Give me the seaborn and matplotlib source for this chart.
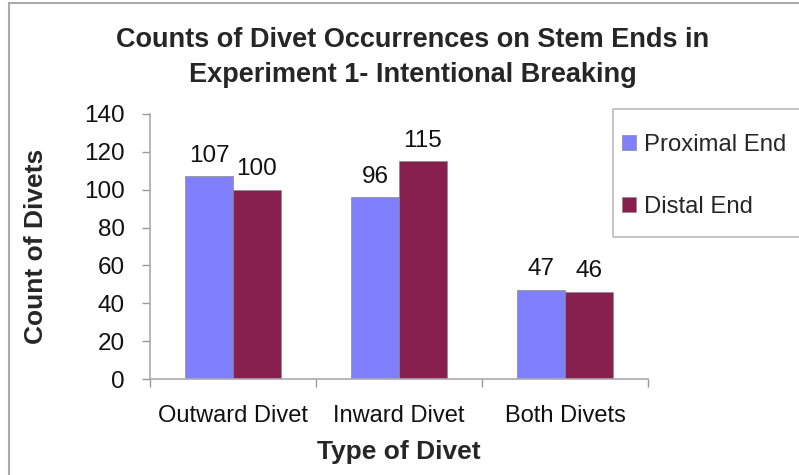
import matplotlib
matplotlib.use("Agg")
import matplotlib.pyplot as plt
from matplotlib.patches import Rectangle
import seaborn as sns
import pandas as pd

# values
divet_types = ["Outward Divet", "Inward Divet", "Both Divets"]
proximal_counts = [107, 96, 47]
distal_counts = [100, 115, 46]
series_names = ["Proximal End", "Distal End"]
bar_colors = ["#8080FF", "#87204F"]

df = pd.DataFrame({
    "Type of Divet": divet_types * 2,
    "Count": proximal_counts + distal_counts,
    "End": [series_names[0]] * 3 + [series_names[1]] * 3,
})

sns.set_theme(style="white")
plt.rcParams["font.family"] = ["Liberation Sans", "DejaVu Sans"]

fig = plt.figure(figsize=(7.99, 4.75), dpi=100)
ax = fig.add_axes([150 / 799, 1 - 379 / 475, 498 / 799, 265 / 475])

sns.barplot(data=df, x="Type of Divet", y="Count", hue="End", palette=bar_colors,
            saturation=1, width=0.576, edgecolor="#8a8a8a", linewidth=0.5,
            ax=ax, legend=False)

for cont in ax.containers:
    ax.bar_label(cont, padding=7, fontsize=17.5, color="#111111")

ax.set_ylim(0, 140)
ax.set_xlim(-0.5, 2.5)
ax.set_yticks(range(0, 141, 20))
ax.tick_params(axis="y", labelsize=17.5, length=6, width=1, color="#999999",
               pad=12, left=True, labelcolor="#111111")
# category labels in the middle, tick marks between categories (Excel style)
ax.set_xticks(range(3))
ax.set_xticklabels(divet_types)
ax.tick_params(axis="x", which="major", length=0, labelsize=17, pad=19,
               labelcolor="#111111")
ax.set_xticks([-0.5, 0.5, 1.5, 2.5], minor=True)
ax.tick_params(axis="x", which="minor", length=6, width=1, color="#999999",
               bottom=True)

for s in ["top", "right"]:
    ax.spines[s].set_visible(False)
for s in ["left", "bottom"]:
    ax.spines[s].set_color("#aaaaaa")
    ax.spines[s].set_linewidth(1.2)

ax.set_xlabel("Type of Divet", fontsize=19, fontweight="bold", labelpad=9)
ax.set_ylabel("Count of Divets", fontsize=19, fontweight="bold", labelpad=26)

fig.suptitle("Counts of Divet Occurrences on Stem Ends in\nExperiment 1- Intentional Breaking",
             fontsize=19.5, fontweight="bold", x=413 / 799, y=1 - 27 / 475,
             va="top", linespacing=1.45)

# legend with its own frame
handles = [Rectangle((0, 0), 1, 1, facecolor=c, edgecolor="#8a8a8a", linewidth=0.5)
           for c in bar_colors]
fig.legend(handles, series_names, loc="center left",
           bbox_to_anchor=(605 / 799, 1 - 176 / 475), frameon=False,
           fontsize=17.2, handlelength=0.6, handleheight=0.6, handletextpad=0.35,
           labelspacing=1.7, borderpad=0.2)
fig.patches.append(Rectangle((613 / 799, 1 - 237 / 475), 200 / 799, 128 / 475,
                             transform=fig.transFigure, fill=False,
                             edgecolor="#bbbbbb", linewidth=1.2))
# outer chart border
fig.patches.append(Rectangle((9 / 799, -0.05), 1.0, 1 - 3 / 475 + 0.05,
                             transform=fig.transFigure, fill=False,
                             edgecolor="#aaaaaa", linewidth=1.5))

fig.savefig("out.png", dpi=100)
